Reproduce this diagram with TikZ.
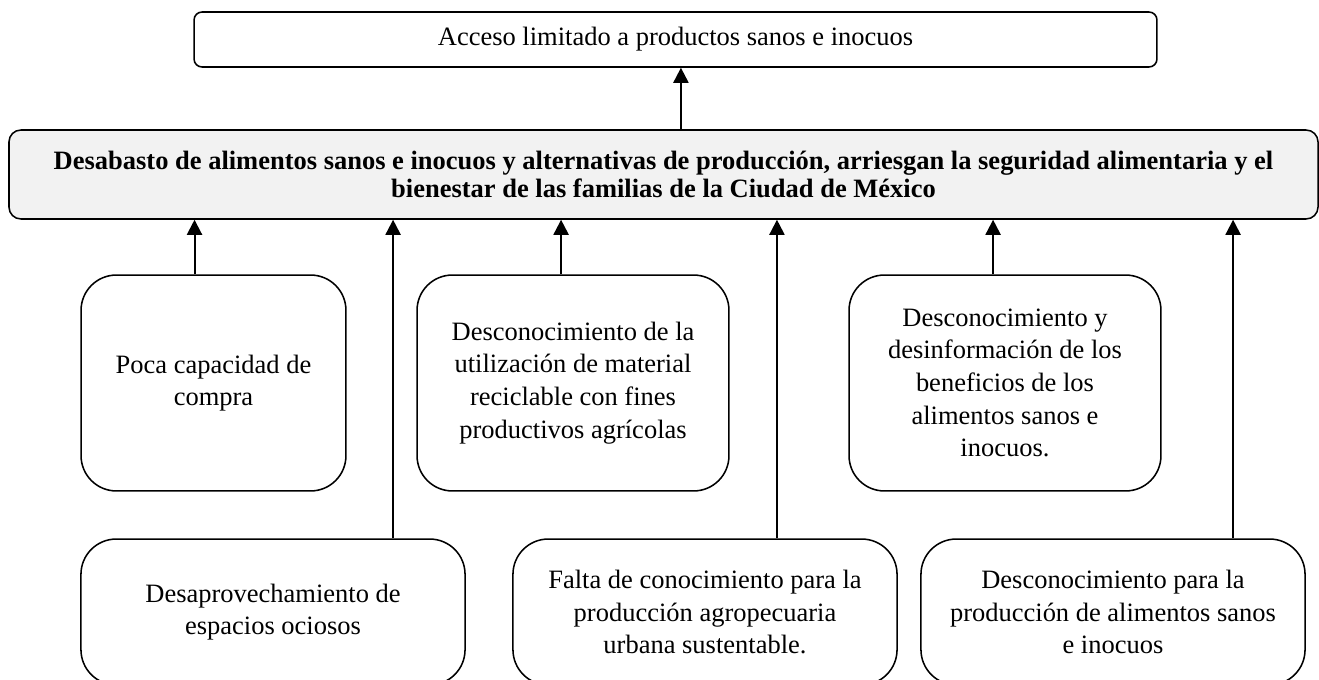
\documentclass[tikz,border=0pt]{standalone}
\usepackage{fontspec}
\setmainfont{Liberation Serif}
\usetikzlibrary{arrows.meta}
\definecolor{mainfill}{HTML}{F2F2F2}

\begin{document}
\begin{tikzpicture}[%
      x=0.453pt, y=-0.453pt,
      causa/.style={draw, line width=0.7pt, rounded corners=16pt, align=center,
        inner sep=0pt, font=\fontsize{12}{14.8}\selectfont},
      flecha/.style={line width=0.9pt, -{Triangle[width=6.8pt,length=6.8pt]}},
      ]
      \useasboundingbox (0,0) rectangle (1319,680);
      \clip (0,0) rectangle (1319,680);

      % efecto y problema central
      \node [draw, line width=0.7pt, rounded corners=3.6pt, inner sep=0pt,
        minimum width=436.2pt, minimum height=24.9pt, font=\fontsize{12}{14.8}\selectfont]
        (efecto) at (675.5,39.5) {Acceso limitado a productos sanos e inocuos};
      \node [draw, line width=0.7pt, fill=mainfill, rounded corners=5.4pt, inner sep=0pt,
        align=center, minimum width=593pt, minimum height=40.3pt,
        font=\fontsize{12}{12.8}\selectfont\bfseries]
        (problema) at (663.5,174.5) {Desabasto de alimentos sanos e inocuos y alternativas de producci\'on, arriesgan la seguridad alimentaria y el\\bienestar de las familias de la Ciudad de M\'exico};

      % causas
      \node [causa, minimum width=120pt, minimum height=97.8pt] (compra) at (213.5,383)
        {Poca capacidad de\\compra};
      \node [causa, minimum width=141.3pt, minimum height=97.8pt] (reciclable) at (573,383)
        {Desconocimiento de la\\utilizaci\'on de material\\reciclable con fines\\productivos agr\'icolas};
      \node [causa, minimum width=141.3pt, minimum height=97.8pt] (beneficios) at (1005,383)
        {Desconocimiento y\\desinformaci\'on de los\\beneficios de los\\alimentos sanos e\\inocuos.};
      \node [causa, minimum width=174pt, minimum height=66.1pt] (espacios) at (273,612)
        {Desaprovechamiento de\\espacios ociosos};
      \node [causa, minimum width=174pt, minimum height=66.1pt] (urbana) at (705,612)
        {Falta de conocimiento para la\\producci\'on agropecuaria\\urbana sustentable.};
      \node [causa, minimum width=174pt, minimum height=66.1pt] (produccion) at (1113,612)
        {Desconocimiento para la\\producci\'on de alimentos sanos\\e inocuos};

      \draw [flecha] ([xshift=7.9pt]problema.north) -- ([xshift=7.9pt]problema.north |- efecto.south);
      \draw [flecha] ([xshift=-8.6pt]compra.north) -- ([xshift=-8.6pt]compra.north |- problema.south);
      \draw [flecha] ([xshift=-5.4pt]reciclable.north) -- ([xshift=-5.4pt]reciclable.north |- problema.south);
      \draw [flecha] ([xshift=-5.4pt]beneficios.north) -- ([xshift=-5.4pt]beneficios.north |- problema.south);
      \draw [flecha] ([xshift=54.4pt]espacios.north) -- ([xshift=54.4pt]espacios.north |- problema.south);
      \draw [flecha] ([xshift=32.6pt]urbana.north) -- ([xshift=32.6pt]urbana.north |- problema.south);
      \draw [flecha] ([xshift=54.4pt]produccion.north) -- ([xshift=54.4pt]produccion.north |- problema.south);
      \end{tikzpicture}
\end{document}
